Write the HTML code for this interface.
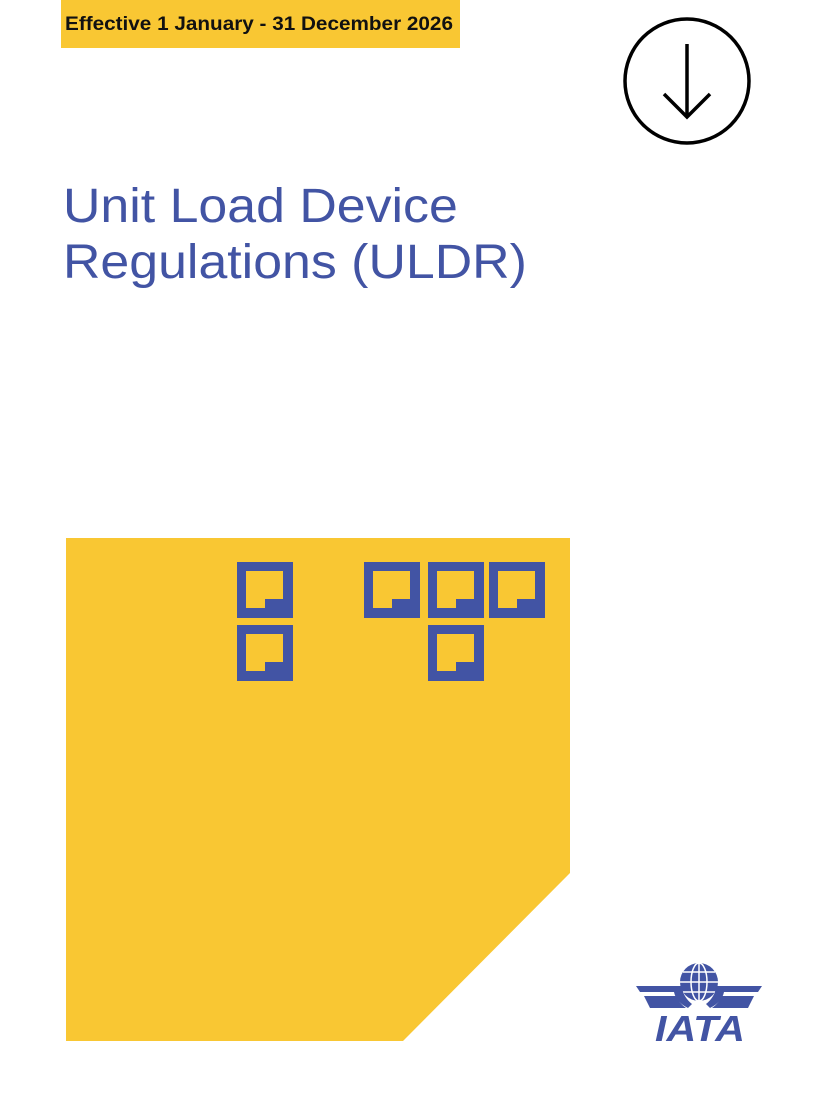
<!DOCTYPE html>
<html><head><meta charset="utf-8"><style>
body{margin:0;width:824px;height:1099px;background:#fff;position:relative;overflow:hidden;font-family:"Liberation Sans",sans-serif}
.badge{position:absolute;left:61px;top:0;width:399px;height:48px;background:#F9C733;}
.badge span{position:absolute;left:4px;top:14px;font-size:19px;font-weight:bold;color:#111;white-space:nowrap;transform:scaleX(1.09);transform-origin:left top}
h1{position:absolute;left:63px;top:179px;margin:0;font-size:48px;line-height:56px;font-weight:normal;color:#4254A4;white-space:nowrap;transform:scaleX(1.08);transform-origin:left top}
</style></head><body>
<div class="badge"><span>Effective 1 January - 31 December 2026</span></div>
<svg style="position:absolute;left:0;top:0" width="824" height="1099">
<circle cx="687" cy="81" r="62" fill="none" stroke="#000" stroke-width="3.5"/>
<path d="M687 44 V117 M664 94 L687 117 L710 94" fill="none" stroke="#000" stroke-width="3.5"/>
<polygon points="66,538 570,538 570,873 403,1041 66,1041" fill="#F9C733"/>
<g fill="#4254A4" fill-rule="evenodd">
<path d="M237 562h56v56h-56z M246 571v37h19v-9h18v-28z"/>
<path d="M237 625h56v56h-56z M246 634v37h19v-9h18v-28z"/>
<path d="M364 562h56v56h-56z M373 571v37h19v-9h18v-28z"/>
<path d="M428 562h56v56h-56z M437 571v37h19v-9h18v-28z"/>
<path d="M489 562h56v56h-56z M498 571v37h19v-9h18v-28z"/>
<path d="M428 625h56v56h-56z M437 634v37h19v-9h18v-28z"/>
</g>
<g fill="#4254A4" stroke="none">
<circle cx="699" cy="982" r="19"/>
<g stroke="#fff" stroke-width="1.5" fill="none">
<ellipse cx="699" cy="982" rx="8" ry="19"/>
<line x1="699" y1="963" x2="699" y2="1001"/>
<line x1="680" y1="982" x2="718" y2="982"/>
<line x1="683" y1="972" x2="715" y2="972"/>
<line x1="683" y1="992" x2="715" y2="992"/>
</g>
<path d="M636 986 H681 Q684 998 692 1004 L688 1008 Q676 1002 674 992 H640Z"/>
<path d="M644 996 H676 Q679 1003 686 1008 H650Z"/>
<path d="M762 986 H717 Q714 998 706 1004 L710 1008 Q722 1002 724 992 H758Z"/>
<path d="M754 996 H722 Q719 1003 712 1008 H748Z"/>
</g>
<text x="700" y="1041" text-anchor="middle" font-family="Liberation Sans" font-weight="bold" font-style="italic" font-size="36" fill="#4254A4" textLength="90" lengthAdjust="spacingAndGlyphs">IATA</text>
</svg>
<h1>Unit Load Device<br>Regulations (ULDR)</h1>
</body></html>
